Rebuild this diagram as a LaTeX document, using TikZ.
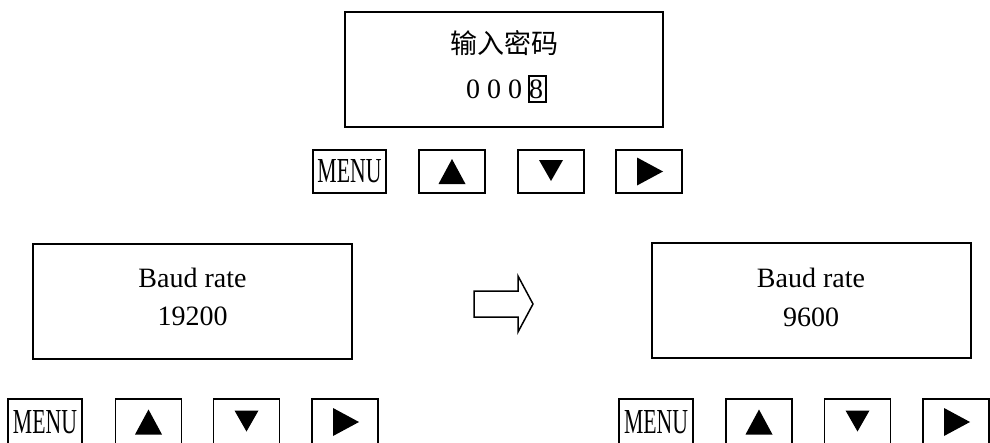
\documentclass[tikz,border=0pt]{standalone}
\usepackage{fontspec}
\usepackage{graphicx}
\setmainfont{Liberation Serif}
\newfontfamily\cjk{Noto Sans CJK SC}
\tikzset{
  panel/.style={draw, line width=1.6pt, inner sep=0},
  key/.style={draw, line width=1.6pt, minimum height=43pt, minimum width=66pt, inner sep=0},
  keymenu/.style={key, minimum width=74pt},
  lowkey/.style={minimum height=46pt},
  txt/.style={inner sep=0, anchor=base, font=\fontsize{28}{34}\selectfont},
  tri/.style={fill=black},
  hollowarrow/.style={draw, line width=1.5pt, line join=miter, fill=white},
}
\newcommand\menulabel{\resizebox{64pt}{23pt}{MENU}}
\newcommand\uptri[1]{\fill[tri, shift={(#1.center)}] (-13.5,12.5) -- (13.5,12.5) -- (0,-12.5) -- cycle;}
\newcommand\dntri[1]{\fill[tri, shift={(#1.center)}] (-12,-11.5) -- (12,-11.5) -- (0,9.5) -- cycle;}
\newcommand\rttri[1]{\fill[tri, shift={(#1.center)}] (-12,-14) -- (14,0) -- (-12,14) -- cycle;}
\begin{document}
\begin{tikzpicture}[x=1pt,y=-1pt]
\useasboundingbox (0,0) rectangle (990,442);
% top panel
\node[panel, minimum width=318pt, minimum height=115pt] (pw) at (504,69.5) {};
\node[txt, font=\cjk\fontsize{27}{32}\selectfont] (pwt) at (504,53) {输入密码};
\node[txt] (pwd) at (504.5,98) {0 0 0 8};
\node[draw, line width=1.5pt, minimum width=17pt, minimum height=26pt, inner sep=0] (eight) at (537.5,89) {};
% top keys
\node[keymenu, minimum width=73pt] (t1) at (349.5,171.5) {\menulabel};
\node[key] (t2) at (452,171.5) {};
\node[key] (t3) at (551,171.5) {};
\node[key] (t4) at (649,171.5) {};
\uptri{t2}\dntri{t3}\rttri{t4}
% left panel
\node[panel, minimum width=319pt, minimum height=115pt] (lb) at (192.5,301.5) {};
\node[txt] (lbt) at (192.5,287) {Baud rate};
\node[txt] (lbv) at (192.5,325) {19200};
% right panel
\node[panel, minimum width=319pt, minimum height=115pt] (rb) at (811.5,300.5) {};
\node[txt] (rbt) at (811,287) {Baud rate};
\node[txt] (rbv) at (811,326) {9600};
% hollow arrow
\draw[hollowarrow] (474,291) -- (518,291) -- (518,276) -- (533,304) -- (518,332) -- (518,317) -- (474,317) -- cycle;
% bottom left keys
\node[keymenu, lowkey] (l1) at (45,422) {\menulabel};
\node[key, lowkey] (l2) at (148.5,422) {};
\node[key, lowkey] (l3) at (246.5,422) {};
\node[key, lowkey] (l4) at (345,422) {};
\uptri{l2}\dntri{l3}\rttri{l4}
% bottom right keys
\node[keymenu, lowkey] (r1) at (656,422) {\menulabel};
\node[key, lowkey] (r2) at (759,422) {};
\node[key, lowkey] (r3) at (857.5,422) {};
\node[key, lowkey] (r4) at (956,422) {};
\uptri{r2}\dntri{r3}\rttri{r4}
\end{tikzpicture}
\end{document}
